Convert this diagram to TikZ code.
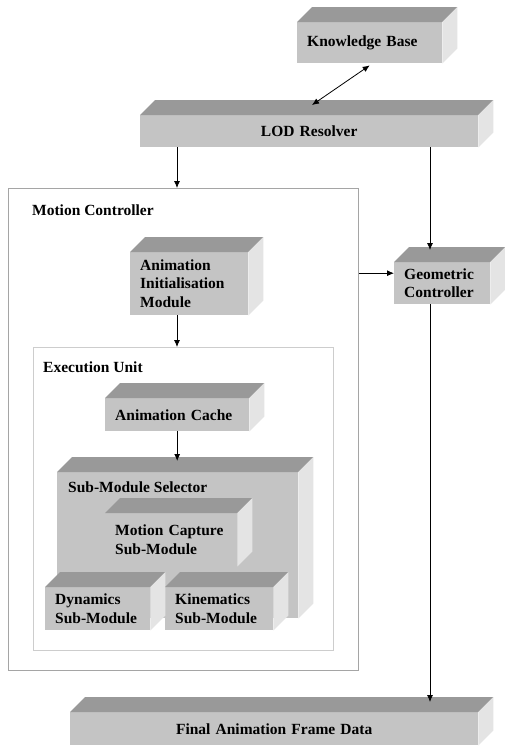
\documentclass[tikz,border=0pt]{standalone}
\usepackage{fontspec}
\setmainfont{Liberation Serif}
\usetikzlibrary{arrows.meta}

\definecolor{facefront}{RGB}{196,196,196}
\definecolor{facetop}{RGB}{153,153,153}
\definecolor{faceside}{RGB}{228,228,228}
\definecolor{mcline}{RGB}{165,165,165}
\definecolor{euline}{RGB}{205,205,205}

\begin{document}
\begin{tikzpicture}[x=1pt, y=-1pt,
	every node/.style={font=\fontsize{15.5}{18.5}\selectfont\bfseries},
	block/.style={fill=facefront, anchor=north west, inner xsep=10pt, align=left},
	frame/.style={draw, fill=white, anchor=north west, line width=1pt},
	title/.style={anchor=north west, inner sep=0pt},
	arr/.style={-{Latex[length=7pt,width=6pt]}, line width=0.8pt},
	dbl/.style={{Latex[length=7pt,width=6pt]}-{Latex[length=7pt,width=6pt]}, line width=0.8pt}]

\useasboundingbox (0,0) rectangle (504,747);

% Containers
\node[frame, draw=mcline,
	minimum width=350, minimum height=482,
	label={[title, xshift=24, yshift=-17]north west:Motion Controller}] (mc) at (8,188) {};

\node[frame, draw=euline,
	minimum width=300, minimum height=303,
	label={[title, xshift=10, yshift=-15]north west:Execution Unit}] (eu) at (33,347) {};

% Blocks
\node[block, text width=125, minimum height=41] (kb) at (297,22) {Knowledge Base};

\node[block, align=center, text width=318, minimum height=32] (lod) at (140,115) {LOD Resolver};

\node[block, text width=98, minimum height=63] (aim) at (130,252) {Animation\\Initialisation\\Module};

\node[block, text width=76, minimum height=42] (gc) at (394,262) {Geometric\\Controller};

\node[block, text width=124, minimum height=33] (ac) at (105,398) {Animation Cache};

\node[block, minimum width=241, minimum height=146,
	label={[title, xshift=11, yshift=-10]north west:Sub-Module Selector}] (sel) at (57,472) {};

\node[block, text width=112, minimum height=53] (mcap) at (105,513) {Motion Capture\\Sub-Module};

\node[block, text width=85, minimum height=43] (dyn) at (45,587) {Dynamics\\Sub-Module};

\node[block, text width=88, minimum height=43] (kin) at (165,587) {Kinematics\\Sub-Module};

\node[block, align=center, text width=388, minimum height=33] (fafd) at (70,712) {Final Animation Frame Data};

% 3D faces
\foreach \b in {kb,lod,aim,gc,ac,sel,mcap,dyn,kin,fafd} {
	\fill[facetop] (\b.north west) -- ++(15,-15) -- ([shift={(15,-15)}]\b.north east) -- (\b.north east) -- cycle;
	\fill[faceside] (\b.north east) -- ++(15,-15) -- ([shift={(15,-15)}]\b.south east) -- (\b.south east) -- cycle;
}

% connections
\draw[dbl] ([xshift=172,yshift=10]lod.north west) -- ([yshift=-2]kb.south);
\draw[arr] ([xshift=37]lod.south west) -- ([xshift=37]lod.south west |- mc.north);
\draw[arr] ([xshift=290]lod.south west) -- ([xshift=36,yshift=12]gc.north west);
\draw[arr] ([yshift=10]mc.east |- gc.west) -- ([yshift=10]gc.west);
\draw[arr] ([xshift=47]aim.south west) -- ([xshift=47]aim.south west |- eu.north);
\draw[arr] (ac.south) -- ([yshift=11]ac.south |- sel.north);
\draw[arr] ([xshift=36]gc.south west) -- ([xshift=36,yshift=10]gc.south west |- fafd.north);

\end{tikzpicture}
\end{document}
